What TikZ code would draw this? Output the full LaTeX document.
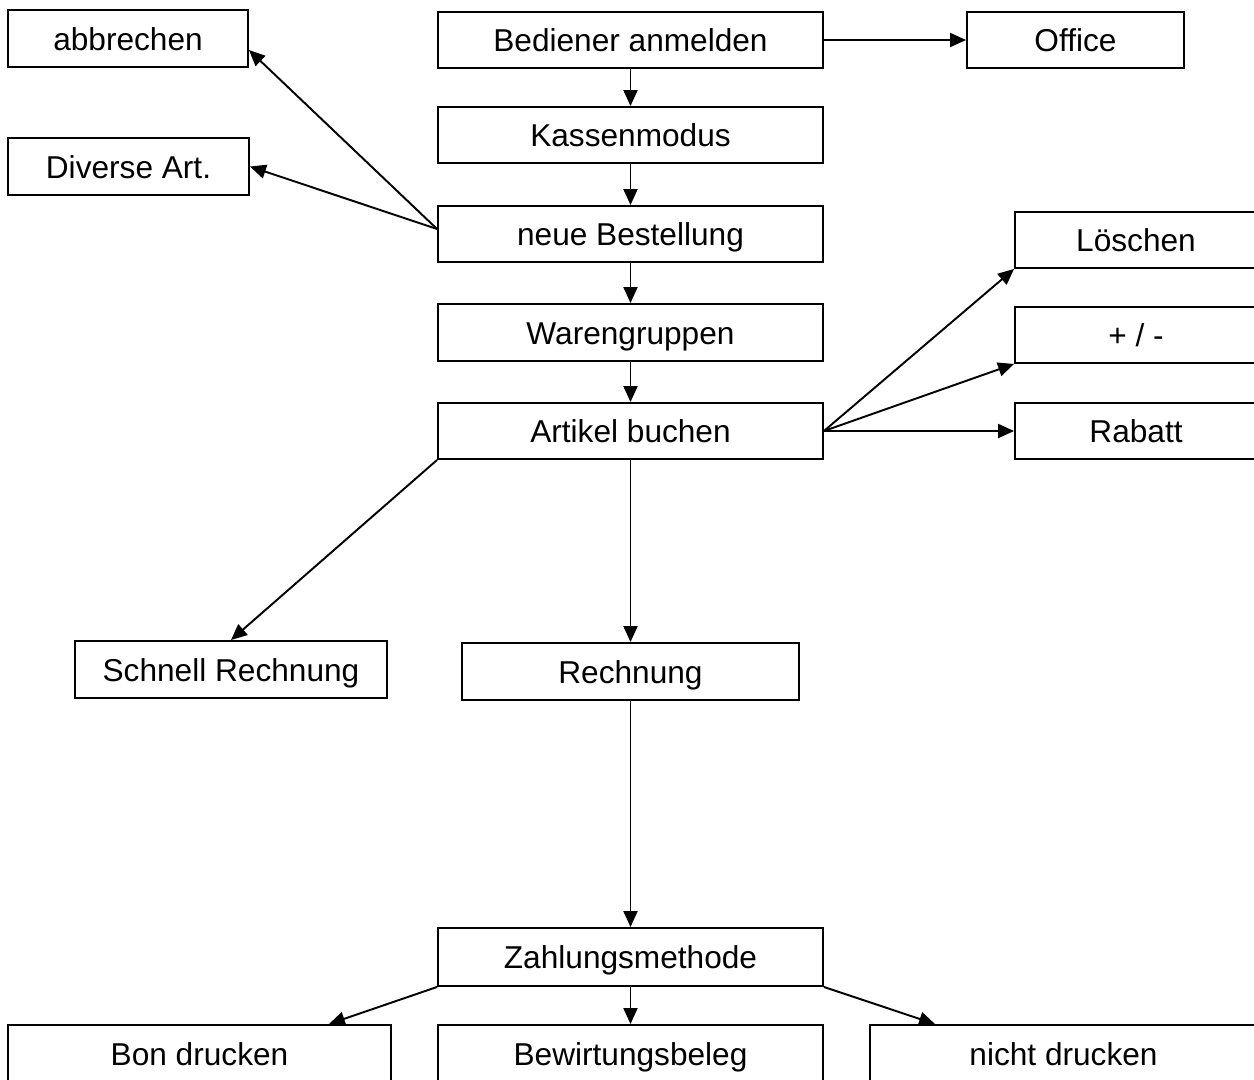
\documentclass[tikz,border=0pt]{standalone}
\usepackage{fontspec}
\setmainfont{Liberation Sans}
\usepackage{tikz}
\usetikzlibrary{shapes.geometric, arrows.meta}
\tikzstyle{box} = [rectangle, minimum width=7.7cm, minimum height=1.12cm, inner sep=0pt, text height=15pt, text depth=1.9pt, text centered, draw=black, line width=1.1pt, font=\fontsize{18}{22}\selectfont]
\tikzstyle{sidebox} = [box, minimum width=4.84cm]
\tikzstyle{arrow} = [line width=1.1pt, -{Triangle[length=0.32cm, width=0.28cm]}]

\begin{document}
\begin{tikzpicture}[x=0.02cm, y=-0.02cm]
\useasboundingbox (0,0) rectangle (1254,1079);

\node (abbrechen) [box, minimum width=4.8cm, minimum height=1.14cm] at (128,38.5) {abbrechen};
\node (diverse) [box, minimum width=4.82cm, minimum height=1.14cm] at (128.5,166.5) {Diverse Art.};

\node (bediener) [box] at (630.5,40) {Bediener anmelden};
\node (office) [box, minimum width=4.34cm] at (1075.5,40) {Office};
\node (kassenmodus) [box] at (630.5,135) {Kassenmodus};
\node (bestellung) [box] at (630.5,234) {neue Bestellung};
\node (warengruppen) [box, minimum height=1.14cm] at (630.5,332.5) {Warengruppen};
\node (artikel) [box] at (630.5,431) {Artikel buchen};

\node (loeschen) [sidebox] at (1136,240) {Löschen};
\node (plusminus) [sidebox] at (1136,335) {+ / -};
\node (rabatt) [sidebox] at (1136,431) {Rabatt};

\node (schnell) [box, minimum width=6.24cm, minimum height=1.14cm] at (231,669.5) {Schnell Rechnung};
\node (rechnung) [box, minimum width=6.74cm, minimum height=1.14cm] at (630.5,671.5) {Rechnung};

\node (zahlung) [box, minimum height=1.16cm] at (630.5,957) {Zahlungsmethode};
\node (bon) [box, minimum width=7.66cm, minimum height=1.16cm] at (199.5,1054) {Bon drucken};
\node (bewirtung) [box, minimum height=1.16cm] at (630.5,1054) {Bewirtungsbeleg};
\node (nichtdrucken) [box, minimum width=7.74cm, minimum height=1.16cm] at (1063.5,1054) {nicht drucken};

\draw [arrow] (bediener) -- (office);
\draw [arrow] (bediener) -- (kassenmodus);
\draw [arrow] (kassenmodus) -- (bestellung);
\draw [arrow] ([yshift=0.1cm]bestellung.west) -- ([yshift=-0.23cm]abbrechen.east);
\draw [arrow] ([yshift=0.1cm]bestellung.west) -- (diverse.east);
\draw [arrow] (bestellung) -- (warengruppen);
\draw [arrow] (warengruppen) -- (artikel);
\draw [arrow] (artikel.east) -- (loeschen.south west);
\draw [arrow] (artikel.east) -- (plusminus.south west);
\draw [arrow] (artikel.east) -- (rabatt.west);
\draw [arrow] (artikel.south west) -- (schnell.north);
\draw [arrow] (artikel) -- (rechnung);
\draw [arrow] (rechnung) -- (zahlung);
\draw [arrow] (zahlung.south west) -- ([xshift=-1.26cm]bon.north east);
\draw [arrow] (zahlung) -- (bewirtung);
\draw [arrow] (zahlung.south east) -- ([xshift=1.32cm]nichtdrucken.north west);

\end{tikzpicture}
\end{document}
